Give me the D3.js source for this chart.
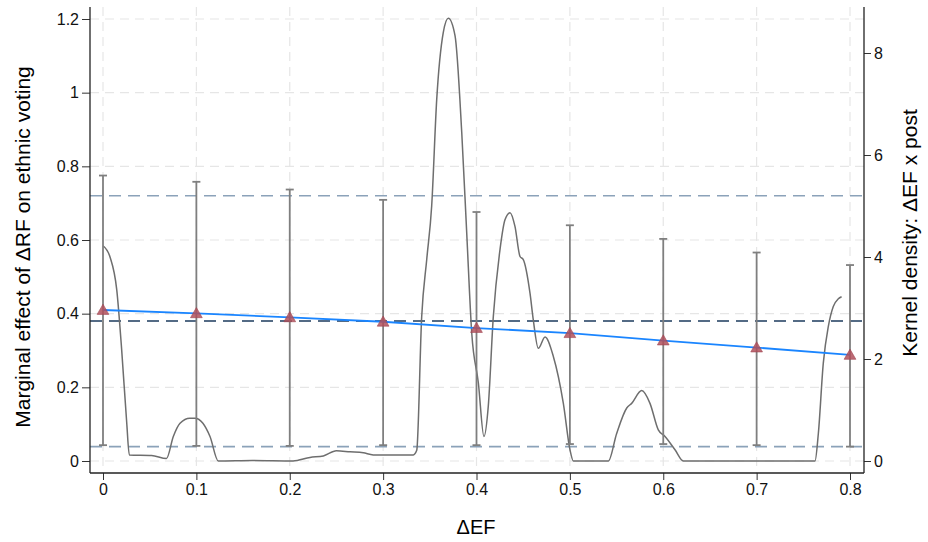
<!DOCTYPE html>
<html>
<head>
  <meta charset="utf-8" />
  <title>Marginal effect of ΔRF on ethnic voting</title>
  <script src="https://d3js.org/d3.v7.min.js"></script>
  <style>
    body { margin: 0; background: #fff; }
    svg { display: block; font-family: "Liberation Sans", Arial, sans-serif; }
    .tick text { font-size: 16px; fill: #111; }
    .grid line { stroke: #e6e6e6; stroke-width: 1.2; stroke-dasharray: 9 6; }
  </style>
</head>
<body>
<svg id="chart" width="928" height="542"></svg>

<script>
  // Marginal effects at each ΔEF value, with 95% CI
  const efValues = [0, 0.1, 0.2, 0.3, 0.4, 0.5, 0.6, 0.7, 0.8];
  const effect   = [0.410, 0.401, 0.390, 0.378, 0.361, 0.347, 0.327, 0.308, 0.288];
  const ciUpper  = [0.775, 0.758, 0.737, 0.709, 0.676, 0.640, 0.603, 0.566, 0.532];
  const ciLower  = [0.043, 0.041, 0.041, 0.043, 0.043, 0.046, 0.046, 0.043, 0.039];

  // Reference lines (upper / lower bound and average effect)
  const refUpper = 0.720;
  const refLower = 0.039;
  const refMean  = 0.380;

  // Kernel density of ΔEF x post (right axis)
  const densX = [0, 0.0075, 0.0147, 0.020, 0.0254, 0.0282, 0.052, 0.068, 0.0753, 0.0825, 0.093, 0.0985,
    0.107, 0.1146, 0.1235, 0.16, 0.2035, 0.2217, 0.236, 0.250, 0.2645, 0.2788, 0.2894, 0.311, 0.3323,
    0.336, 0.3413, 0.3467, 0.352, 0.3574, 0.3644, 0.3698, 0.377, 0.3842, 0.3895, 0.3949, 0.402, 0.408,
    0.4126, 0.418, 0.4252, 0.4305, 0.4359, 0.4412, 0.4466, 0.4501, 0.4573, 0.4608, 0.4662, 0.4734,
    0.4823, 0.493, 0.5001, 0.5037, 0.5412, 0.5501, 0.5609, 0.5662, 0.5769, 0.5858, 0.5947, 0.6019,
    0.6126, 0.6215, 0.7625, 0.7661, 0.7714, 0.7768, 0.7821, 0.7875, 0.791];
  const densY = [4.22, 4.00, 3.36, 2.18, 0.75, 0.12, 0.11, 0.05, 0.48, 0.74, 0.84, 0.84,
    0.74, 0.48, 0.0, 0.01, 0.0, 0.07, 0.10, 0.20, 0.18, 0.16, 0.12, 0.12, 0.12,
    0.21, 2.83, 3.95, 5.0, 7.09, 8.40, 8.68, 8.34, 6.44, 4.48, 2.51, 1.53, 0.48,
    1.07, 2.83, 4.15, 4.73, 4.87, 4.60, 4.01, 3.95, 3.29, 2.77, 2.21, 2.43,
    2.05, 1.13, 0.22, 0.0, 0.0, 0.54, 1.04, 1.13, 1.38, 1.13, 0.61, 0.48,
    0.22, 0.0, 0.0, 0.54, 1.92, 2.64, 3.03, 3.18, 3.22];

  const xTicks = [0, 0.1, 0.2, 0.3, 0.4, 0.5, 0.6, 0.7, 0.8];
  const yLeftTicks = [0, 0.2, 0.4, 0.6, 0.8, 1, 1.2];
  const yRightTicks = [0, 2, 4, 6, 8];

  // plot frame
  const plot = { left: 90, right: 864, top: 7, bottom: 473 };

  const svg = d3.select('#chart');

  const x = d3.scaleLinear().domain([0, 0.8]).range([103, 850]);
  const yL = d3.scaleLinear().domain([0, 1.2]).range([461, 19]);
  const yR = d3.scaleLinear().domain([0, 8]).range([461, 53]);

  // grid lines
  const grid = svg.append('g').attr('class', 'grid');
  grid.selectAll('line.h').data(yLeftTicks).enter().append('line')
    .attr('x1', plot.left).attr('x2', plot.right)
    .attr('y1', d => yL(d)).attr('y2', d => yL(d));
  grid.selectAll('line.v').data(xTicks).enter().append('line')
    .attr('y1', plot.top).attr('y2', plot.bottom)
    .attr('x1', d => x(d)).attr('x2', d => x(d));

  // dashed reference lines
  const refs = [
    { v: refUpper, c: '#8ba2b9', w: 1.6 },
    { v: refLower, c: '#8ba2b9', w: 1.6 },
    { v: refMean,  c: '#1d3b5e', w: 1.6 }
  ];
  svg.append('g').selectAll('line').data(refs).enter().append('line')
    .attr('x1', plot.left).attr('x2', plot.right)
    .attr('y1', d => yL(d.v)).attr('y2', d => yL(d.v))
    .attr('stroke', d => d.c).attr('stroke-width', d => d.w)
    .attr('stroke-dasharray', '12 7');

  // kernel density
  const densLine = d3.line()
    .x(d => x(d[0])).y(d => yR(d[1]))
    .curve(d3.curveMonotoneX);
  svg.append('path')
    .datum(densX.map((d, i) => [d, densY[i]]))
    .attr('d', densLine)
    .attr('fill', 'none')
    .attr('stroke', '#6e6e6e')
    .attr('stroke-width', 1.5);

  // confidence intervals
  const ci = svg.append('g').attr('stroke', '#7f7f7f').attr('stroke-width', 1.8);
  efValues.forEach((v, i) => {
    ci.append('line').attr('x1', x(v)).attr('x2', x(v))
      .attr('y1', yL(ciLower[i])).attr('y2', yL(ciUpper[i]));
    [ciLower[i], ciUpper[i]].forEach(b => {
      ci.append('line').attr('x1', x(v) - 4).attr('x2', x(v) + 4)
        .attr('y1', yL(b)).attr('y2', yL(b));
    });
  });

  // marginal effect line
  svg.append('path')
    .datum(efValues.map((d, i) => [d, effect[i]]))
    .attr('d', d3.line().x(d => x(d[0])).y(d => yL(d[1])))
    .attr('fill', 'none')
    .attr('stroke', '#1a85ff')
    .attr('stroke-width', 1.8);

  // triangle markers
  const tri = d3.symbol().type(d3.symbolTriangle).size(60);
  svg.append('g').selectAll('path').data(efValues).enter().append('path')
    .attr('d', tri)
    .attr('transform', (d, i) => `translate(${x(d)},${yL(effect[i]) + 1})`)
    .attr('fill', '#b0505c')
    .attr('fill-opacity', 0.85)
    .attr('stroke', '#a14652')
    .attr('stroke-width', 0.6);

  // axes
  const axisStyle = g => {
    g.select('.domain').remove();
    g.selectAll('.tick line').attr('stroke', '#333');
  };
  svg.append('g')
    .attr('transform', `translate(${plot.left},0)`)
    .call(d3.axisLeft(yL).tickValues(yLeftTicks).tickFormat(d3.format('~g')).tickSize(8).tickPadding(3))
    .call(axisStyle);
  svg.append('g')
    .attr('transform', `translate(${plot.right},0)`)
    .call(d3.axisRight(yR).tickValues(yRightTicks).tickSize(7).tickPadding(3))
    .call(axisStyle);
  svg.append('g')
    .attr('transform', `translate(0,${plot.bottom})`)
    .call(d3.axisBottom(x).tickValues(xTicks).tickFormat(d3.format('~g')).tickSize(7).tickPadding(4))
    .call(axisStyle);

  // axis lines
  const frame = svg.append('g').attr('stroke', '#222').attr('stroke-width', 1.3);
  frame.append('line').attr('x1', plot.left).attr('x2', plot.left).attr('y1', plot.top).attr('y2', plot.bottom);
  frame.append('line').attr('x1', plot.right).attr('x2', plot.right).attr('y1', plot.top).attr('y2', plot.bottom);
  frame.append('line').attr('x1', plot.left).attr('x2', plot.right).attr('y1', plot.bottom).attr('y2', plot.bottom);

  // titles
  svg.append('text')
    .attr('transform', 'translate(30,247) rotate(-90)')
    .attr('text-anchor', 'middle')
    .style('font-size', '21px')
    .text('Marginal effect of ΔRF on ethnic voting');
  svg.append('text')
    .attr('transform', 'translate(917,233) rotate(-90)')
    .attr('text-anchor', 'middle')
    .style('font-size', '21px')
    .text('Kernel density: ΔEF x post');
  svg.append('text')
    .attr('x', 476)
    .attr('y', 534)
    .attr('text-anchor', 'middle')
    .style('font-size', '20px')
    .text('ΔEF');
</script>
</body>
</html>
